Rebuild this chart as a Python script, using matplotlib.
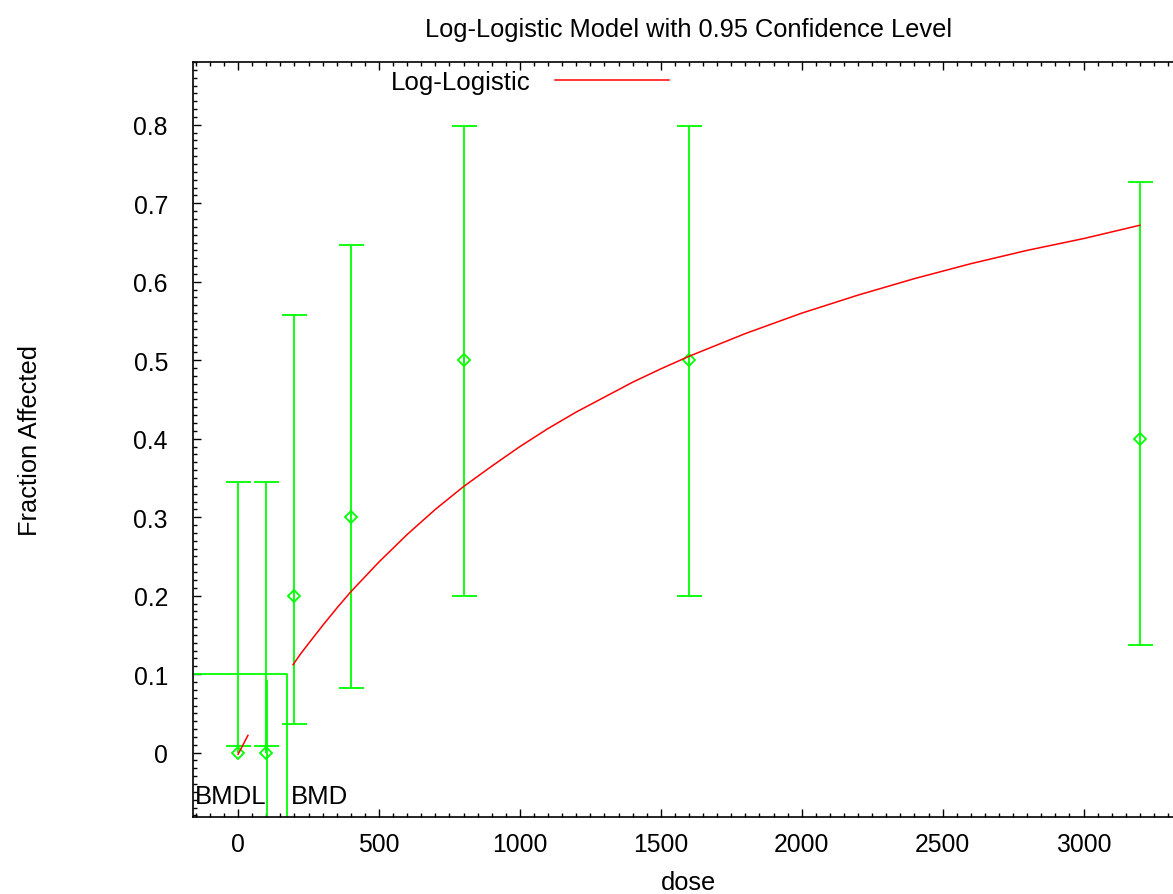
import numpy as np
from matplotlib import pyplot as plt
from matplotlib.ticker import MultipleLocator

plt.rcParams['font.family'] = ['Liberation Sans', 'DejaVu Sans']

# observed data with 95% limits
dose = [0, 100, 200, 400, 800, 1600, 3200]
frac = [0.0, 0.0, 0.2, 0.3, 0.5, 0.5, 0.4]
lower = [0.009, 0.009, 0.036, 0.082, 0.2, 0.2, 0.137]
upper = [0.345, 0.345, 0.558, 0.647, 0.799, 0.799, 0.727]

# log-logistic fit
fit_dose = [195, 220, 250, 300, 350, 400, 450, 500, 600, 700, 800, 900, 1000,
            1100, 1200, 1300, 1400, 1500, 1600, 1800, 2000, 2200, 2400, 2600,
            2800, 3000, 3200]
fit_frac = [0.112, 0.125, 0.139, 0.162, 0.184, 0.205, 0.224, 0.243, 0.278,
            0.310, 0.339, 0.365, 0.390, 0.413, 0.434, 0.453, 0.472, 0.489,
            0.505, 0.534, 0.560, 0.583, 0.604, 0.623, 0.640, 0.655, 0.672]
fit_low_dose = [0, 35]
fit_low_frac = [-0.002, 0.022]

bmr = 0.1
bmd = 174
bmdl = 102
bmdl_top = 0.091

xmin, xmax = -160, 3360
ymin, ymax = -0.082, 0.88

fig = plt.figure(figsize=(11.73, 8.95), dpi=100)
ax = fig.add_axes([193/1173, 1-818/895, (1185-193)/1173, (818-63)/895])

green = '#00ff00'
# bars go from the lower to the upper limit (the lower limit may sit above the point)
ax.vlines(dose, [min(l, f) for l, f in zip(lower, frac)], upper, color=green, lw=1.3, zorder=3)
ax.plot(dose, lower, '_', color=green, ms=18, mew=1.3, zorder=3)
ax.plot(dose, upper, '_', color=green, ms=18, mew=1.3, zorder=3)
ax.plot(dose, frac, 'D', color=green, mfc='none', mec=green, ms=6.5, mew=1.3, zorder=3)

ax.plot(fit_dose, fit_frac, color='red', lw=1.1, label='Log-Logistic', zorder=4)
ax.plot(fit_low_dose, fit_low_frac, color='red', lw=1.1, zorder=4)

# BMD / BMDL markers
ax.plot([xmin, bmd, bmd], [bmr, bmr, ymin], color=green, lw=1.3, zorder=2)
ax.plot([bmdl, bmdl], [bmdl_top, ymin], color=green, lw=1.3, zorder=2)
ax.text(bmdl, -0.055, 'BMDL', ha='right', va='center', fontsize=18.5)
ax.text(bmd + 12, -0.055, 'BMD', ha='left', va='center', fontsize=18.5)

ax.set_xlim(xmin, xmax)
ax.set_ylim(ymin, ymax)
ax.xaxis.set_major_locator(MultipleLocator(500))
ax.xaxis.set_minor_locator(MultipleLocator(50))
ax.yaxis.set_minor_locator(MultipleLocator(0.01))
ax.set_yticks(np.arange(0, 0.81, 0.1))
ax.set_yticklabels(['0', '0.1', '0.2', '0.3', '0.4', '0.5', '0.6', '0.7', '0.8'])
ax.tick_params(which='both', direction='in', top=True, right=True, labelsize=17.8)
ax.tick_params(which='major', length=6, width=1)
ax.tick_params(which='minor', length=3, width=1)
ax.tick_params(axis='x', pad=11)
ax.tick_params(axis='y', pad=18)
for s in ax.spines.values():
    s.set_linewidth(1.2)

ax.set_title('Log-Logistic Model with 0.95 Confidence Level', fontsize=18.3, pad=19)
ax.set_xlabel('dose', fontsize=18.3, labelpad=10)
ax.set_ylabel('Fraction Affected', fontsize=18.3)
ax.yaxis.set_label_coords(-0.152, 0.5)

ax.legend(loc='center left', bbox_to_anchor=(391/1173, 1-83/895),
          bbox_transform=fig.transFigure, frameon=False, markerfirst=False,
          fontsize=18.6, handlelength=4.4, handletextpad=0.95, borderpad=0,
          borderaxespad=0)

plt.savefig('out.png', dpi=100)
